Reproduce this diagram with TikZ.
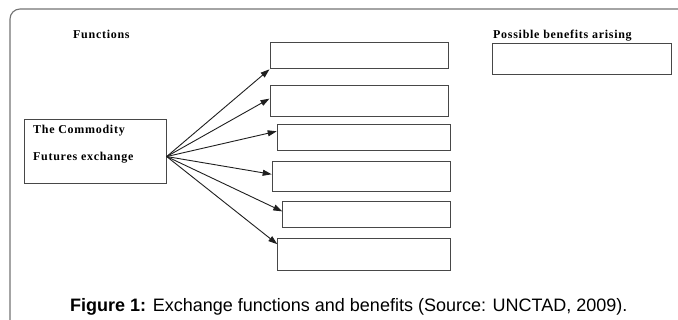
\documentclass[tikz,border=0pt]{standalone}
\usepackage{fontspec}
\setmainfont{Liberation Serif}
\newfontfamily\lblfont{Liberation Serif}[LetterSpace=6]
\newfontfamily\capfont{Liberation Sans}
\usetikzlibrary{arrows.meta,calc}

\tikzset{
  frameline/.style={draw=black!55, line width=1.1pt},
  cell/.style={draw=black!72, line width=1pt, inner sep=0pt, anchor=north west},
  label/.style={inner sep=0pt, anchor=base west, font=\lblfont\bfseries\fontsize{12}{14}\selectfont},
  link/.style={draw=black!88, line width=0.9pt, -{Triangle[length=9pt,width=6pt]}},
}

\begin{document}
\begin{tikzpicture}[x=1pt, y=-1pt]
  \useasboundingbox (0,0) rectangle (678,320);

  % outer panel, open on the right and at the bottom
  \draw[frameline, rounded corners=10pt] (10,322) -- (10,9) -- (680,9);

  % headings
  \node[label] (hfun) at (73,38.5) {Functions};
  \node[label] (hben) at (493,38.3) {Possible benefits arising};

  % source box
  \node[cell, minimum width=141.4pt, minimum height=64.3pt] (src) at (24.3,119) {};
  \node[label] (src1) at (33,133.2) {The Commodity};
  \node[label] (src2) at (33,160.8) {Futures exchange};
  \coordinate (hub) at ($(src.north east)!0.575!(src.south east)$);

  % function boxes
  \node[cell, minimum width=178.2pt, minimum height=26pt]   (b1) at (269.5,42.3) {};
  \node[cell, minimum width=178.2pt, minimum height=30.7pt] (b2) at (269.5,85) {};
  \node[cell, minimum width=173.3pt, minimum height=26pt]   (b3) at (276.7,124) {};
  \node[cell, minimum width=178.3pt, minimum height=30.6pt] (b4) at (271.7,160.7) {};
  \node[cell, minimum width=167.7pt, minimum height=26.3pt] (b5) at (282.3,201) {};
  \node[cell, minimum width=172.7pt, minimum height=31.7pt] (b6) at (277.3,238.3) {};

  % benefit box
  \node[cell, minimum width=179.3pt, minimum height=31.6pt] (ben) at (491.7,42.7) {};

  % arrows fanning out from the exchange
  \draw[link] (hub) -- (b1.south west);
  \draw[link] (hub) -- ($(b2.north west)!0.43!(b2.south west)$);
  \draw[link] (hub) -- ($(b3.north west)!0.27!(b3.south west)$);
  \draw[link] (hub) -- ($(b4.north west)!0.43!(b4.south west)$);
  \draw[link] (hub) -- ($(b5.north west)!0.38!(b5.south west)$);
  \draw[link] (hub) -- ($(b6.north west)!0.18!(b6.south west)$);

  % caption
  \node[inner sep=0pt, anchor=base west, font=\capfont\fontsize{18}{20}\selectfont] (cap) at (70,312)
    {\textbf{Figure 1:} Exchange functions and benefits (Source: UNCTAD, 2009).};
\end{tikzpicture}
\end{document}
